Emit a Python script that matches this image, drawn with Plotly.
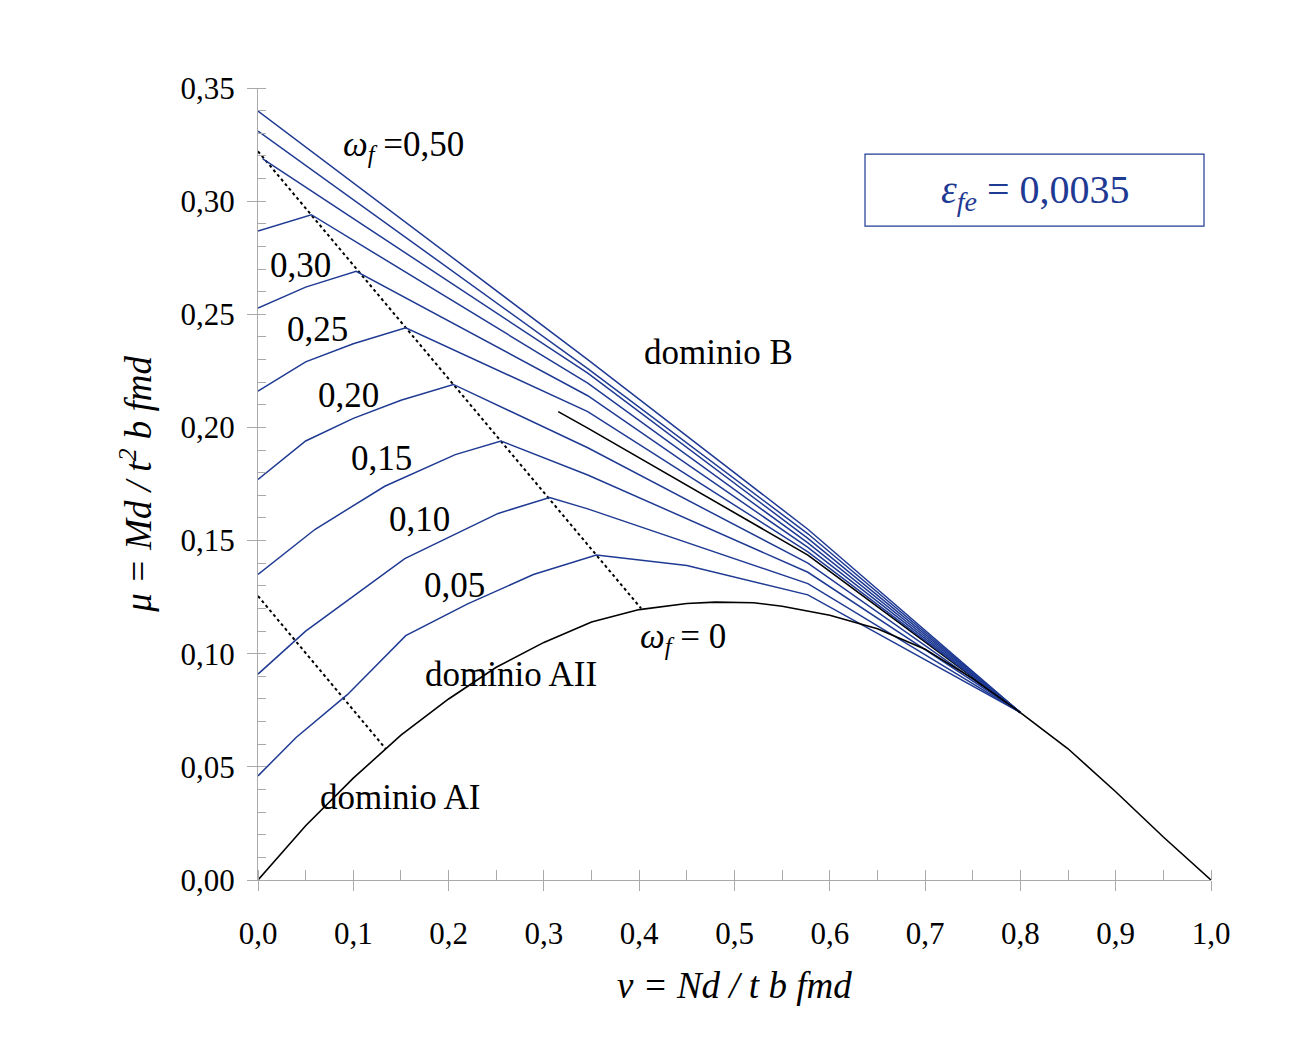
import plotly.graph_objects as go

# omega_f curves: rising branch, peak, descending branch to the common point
omega_labels = ["0,05", "0,10", "0,15", "0,20", "0,25", "0,30", "0,35", "0,40", "0,45", "0,50"]
nu_w05 = [0.0, 0.04, 0.094, 0.155, 0.22, 0.289, 0.355, 0.45, 0.577, 0.8]
mu_w05 = [0.046, 0.063, 0.082, 0.108, 0.122, 0.135, 0.1436, 0.139, 0.126, 0.074]
nu_w10 = [0.0, 0.05, 0.154, 0.252, 0.306, 0.346, 0.577, 0.8]
mu_w10 = [0.091, 0.110, 0.142, 0.162, 0.169, 0.164, 0.131, 0.074]
nu_w15 = [0.0, 0.06, 0.133, 0.207, 0.255, 0.346, 0.577, 0.8]
mu_w15 = [0.135, 0.155, 0.174, 0.188, 0.194, 0.179, 0.136, 0.074]
nu_w20 = [0.0, 0.05, 0.10, 0.15, 0.205, 0.346, 0.577, 0.8]
mu_w20 = [0.177, 0.194, 0.204, 0.212, 0.219, 0.191, 0.140, 0.074]
nu_w25 = [0.0, 0.05, 0.10, 0.155, 0.346, 0.577, 0.8]
mu_w25 = [0.216, 0.229, 0.237, 0.244, 0.207, 0.145, 0.074]
nu_w30 = [0.0, 0.05, 0.103, 0.346, 0.577, 0.8]
mu_w30 = [0.2528, 0.262, 0.269, 0.214, 0.147, 0.074]
nu_w35 = [0.0, 0.056, 0.346, 0.577, 0.8]
mu_w35 = [0.2868, 0.294, 0.2196, 0.149, 0.074]
nu_w40 = [0.005, 0.346, 0.577, 0.8]
mu_w40 = [0.3187, 0.224, 0.151, 0.074]
nu_w45 = [0.0, 0.346, 0.577, 0.8]
mu_w45 = [0.331, 0.226, 0.153, 0.074]
nu_w50 = [0.0, 0.346, 0.577, 0.8]
mu_w50 = [0.3398, 0.230, 0.155, 0.074]

# omega_f = 0 boundary
nu_w0 = [0.0, 0.05, 0.1, 0.15, 0.2, 0.25, 0.3, 0.35, 0.4, 0.45, 0.48, 0.52,
         0.55, 0.6, 0.65, 0.7, 0.75, 0.8, 0.85, 0.9, 0.95, 1.0]
mu_w0 = [0.0, 0.024, 0.045, 0.064, 0.080, 0.094, 0.105, 0.114, 0.1195, 0.1222, 0.1228, 0.1225,
         0.121, 0.117, 0.111, 0.102, 0.089, 0.074, 0.058, 0.039, 0.019, 0.0]

# black domain boundary segment
nu_b = [0.315, 0.346, 0.577, 0.8]
mu_b = [0.207, 0.1997, 0.1436, 0.074]

# dotted lines through the peaks
nu_dot1 = [0.0, 0.402]
mu_dot1 = [0.322, 0.120]
nu_dot2 = [0.0, 0.134]
mu_dot2 = [0.1255, 0.058]

x_ticks = [0.0, 0.1, 0.2, 0.3, 0.4, 0.5, 0.6, 0.7, 0.8, 0.9, 1.0]
y_ticks = [0.0, 0.05, 0.10, 0.15, 0.20, 0.25, 0.30, 0.35]

BLUE = "#1f3a93"
FONT = "Liberation Serif"

curves = [(nu_w05, mu_w05), (nu_w10, mu_w10), (nu_w15, mu_w15), (nu_w20, mu_w20),
          (nu_w25, mu_w25), (nu_w30, mu_w30), (nu_w35, mu_w35), (nu_w40, mu_w40),
          (nu_w45, mu_w45), (nu_w50, mu_w50)]

fig = go.Figure()
fig.add_trace(go.Scatter(x=nu_dot1, y=mu_dot1, mode="lines",
                         line=dict(color="black", width=2, dash="dot")))
fig.add_trace(go.Scatter(x=nu_dot2, y=mu_dot2, mode="lines",
                         line=dict(color="black", width=2, dash="dot")))
fig.add_trace(go.Scatter(x=nu_b, y=mu_b, mode="lines", line=dict(color="black", width=1.6)))
for (xs, ys), lab in zip(curves, omega_labels):
    fig.add_trace(go.Scatter(x=xs, y=ys, mode="lines", name=lab,
                             line=dict(color=BLUE, width=1.5)))
fig.add_trace(go.Scatter(x=nu_w0, y=mu_w0, mode="lines", line=dict(color="black", width=1.6)))


def px(x, y):
    return (x - 250) / 953.0, (872 - y) / 2263.0


labels = [
    ("<i>ω<sub>f</sub></i> =0,50", 395, 138),
    ("0,30", 292, 257), ("0,25", 309, 321), ("0,20", 340, 387),
    ("0,15", 373, 450), ("0,10", 411, 511), ("0,05", 446, 577),
    ("dominio B", 710, 344), ("<i>ω<sub>f</sub></i> = 0", 675, 630),
    ("dominio AII", 503, 666), ("dominio AI", 392, 789),
]
for txt, ax_, ay_ in labels:
    xx, yy = px(ax_, ay_)
    fig.add_annotation(x=xx, y=yy, text=txt, showarrow=False,
                       font=dict(family=FONT, size=35, color="black"))

bx0, by0 = px(857, 218)
bx1, by1 = px(1196, 146)
fig.add_shape(type="rect", x0=bx0, x1=bx1, y0=by0, y1=by1,
              line=dict(color=BLUE, width=1.2), fillcolor="white")
cx, cy = px(1027, 184)
fig.add_annotation(x=cx, y=cy, text="<i>ε<sub>fe</sub></i> = 0,0035", showarrow=False,
                   font=dict(family=FONT, size=40, color=BLUE))

fig.add_annotation(xref="paper", yref="paper", x=0.5, y=-0.162,
                   text="<i>ν = Nd / t b fmd</i>", showarrow=False,
                   font=dict(family=FONT, size=37, color="black"))
fig.add_annotation(xref="paper", yref="paper", x=-0.155, y=0.5, textangle=-90,
                   text="<i>μ = Md / t<sup>2</sup> b fmd</i>", showarrow=False,
                   font=dict(family=FONT, size=37, color="black"))

fig.update_layout(
    width=1299, height=1044, autosize=False,
    margin=dict(l=250, r=96, t=80, b=172, autoexpand=False),
    plot_bgcolor="white", paper_bgcolor="white",
    showlegend=False, separators=", ",
    font=dict(family=FONT, size=31, color="black"),
)
fig.update_xaxes(range=[0, 1], tickvals=x_ticks, tickformat=".1f",
                 showgrid=False, zeroline=False, showline=True, linecolor="#aaaaaa",
                 ticks="outside", ticklen=10, tickcolor="#aaaaaa", ticklabelstandoff=16,
                 minor=dict(dtick=0.05, ticks="inside", ticklen=10, tickcolor="#aaaaaa"))
fig.update_yaxes(range=[0, 0.35], tickvals=y_ticks, tickformat=".2f",
                 showgrid=False, zeroline=False, showline=True, linecolor="#aaaaaa",
                 ticks="outside", ticklen=10, tickcolor="#aaaaaa", ticklabelstandoff=6,
                 minor=dict(dtick=0.01, ticks="inside", ticklen=8, tickcolor="#aaaaaa"))

fig.write_html("out.html")
